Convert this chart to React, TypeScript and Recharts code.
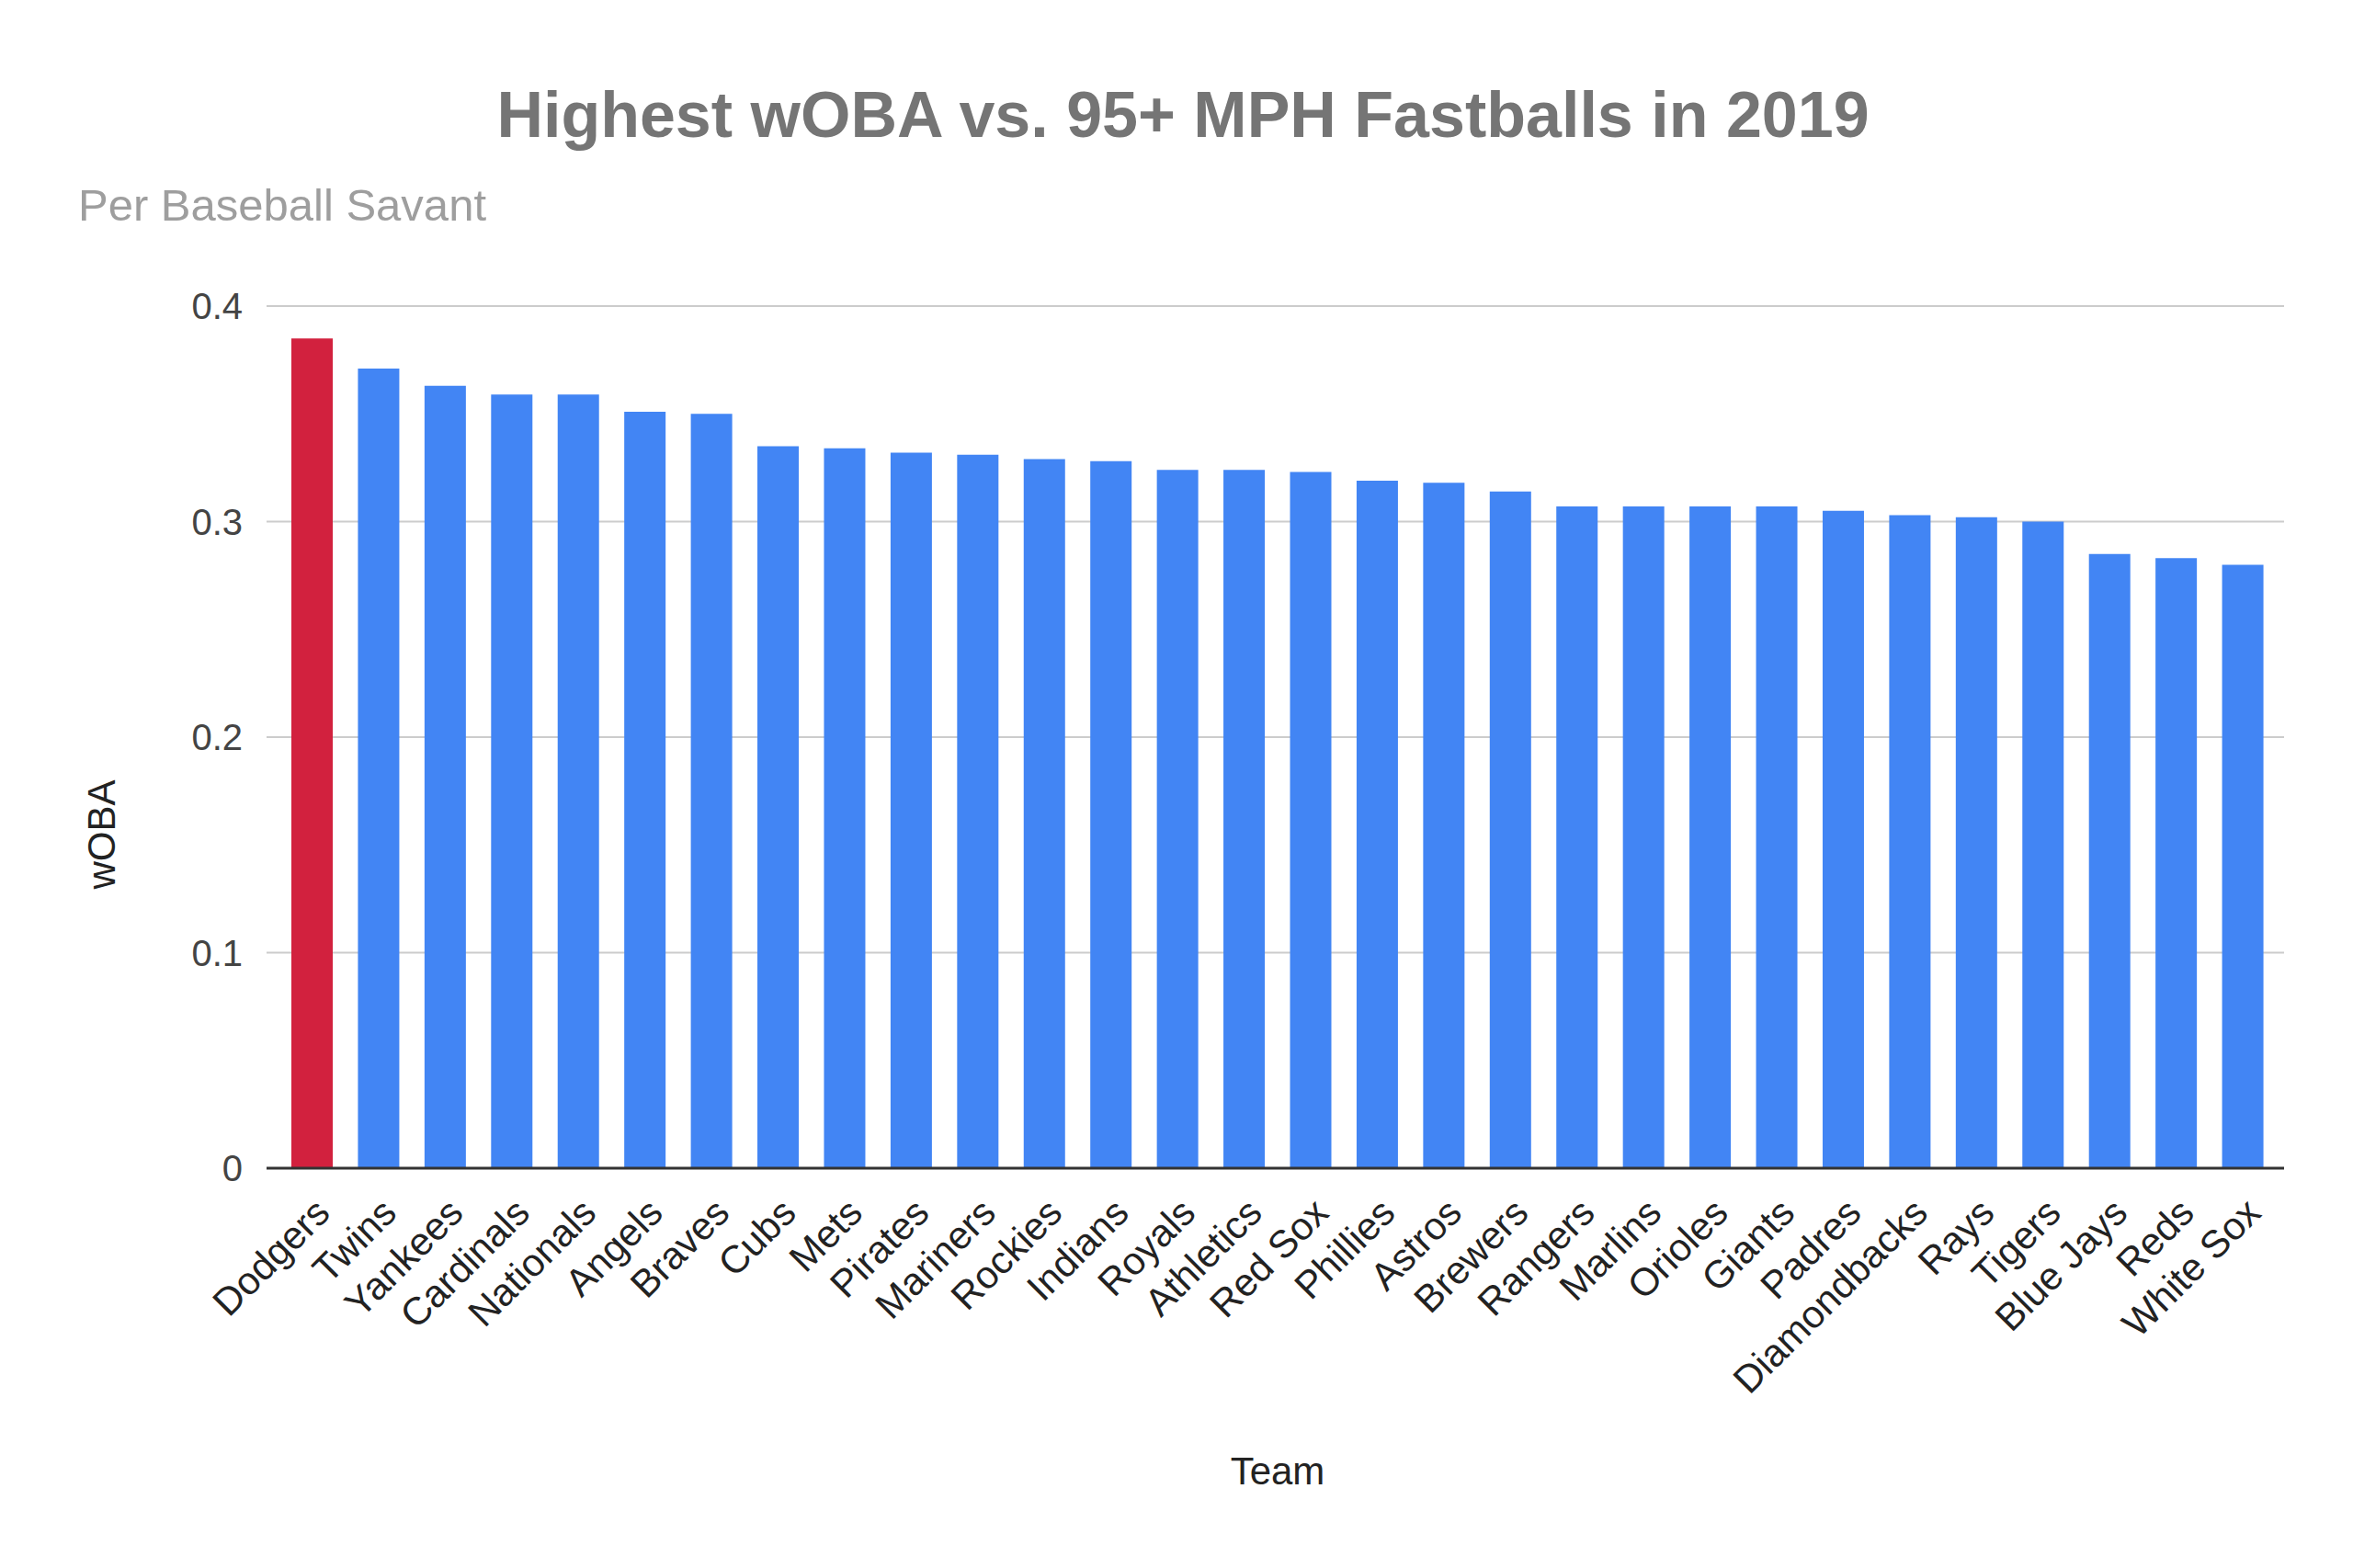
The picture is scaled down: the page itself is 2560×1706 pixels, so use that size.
import React from 'react';
import { BarChart, Bar, XAxis, YAxis, CartesianGrid, Cell } from 'recharts';

const teams: string[] = [
  'Dodgers', 'Twins', 'Yankees', 'Cardinals', 'Nationals', 'Angels', 'Braves', 'Cubs', 'Mets', 'Pirates',
  'Mariners', 'Rockies', 'Indians', 'Royals', 'Athletics', 'Red Sox', 'Phillies', 'Astros', 'Brewers', 'Rangers',
  'Marlins', 'Orioles', 'Giants', 'Padres', 'Diamondbacks', 'Rays', 'Tigers', 'Blue Jays', 'Reds', 'White Sox',
];

const woba: number[] = [
  0.385, 0.371, 0.363, 0.359, 0.359, 0.351, 0.350, 0.335, 0.334, 0.332,
  0.331, 0.329, 0.328, 0.324, 0.324, 0.323, 0.319, 0.318, 0.314, 0.307,
  0.307, 0.307, 0.307, 0.305, 0.303, 0.302, 0.300, 0.285, 0.283, 0.280,
];

const yTicks: number[] = [0, 0.1, 0.2, 0.3, 0.4];
const highlightTeam = 'Dodgers';

const data = teams.map((team, i) => ({ team, woba: woba[i] }));

const W = 2544;
const H = 1690;
const FONT = '"Liberation Sans", Arial, sans-serif';

const XTick = (props: any) => {
  const { x, y, payload } = props;
  const ax = x + 22;
  const ay = y + 51;
  return (
    <text
      x={ax}
      y={ay}
      textAnchor="end"
      transform={`rotate(-45, ${ax}, ${ay})`}
      fill="#222222"
      fontSize={42}
      fontFamily={FONT}
    >
      {payload.value}
    </text>
  );
};

export default function App() {
  return (
    <div style={{ position: 'relative', width: W, height: H, background: '#ffffff' }}>
      <BarChart
        width={W}
        height={H}
        data={data}
        margin={{ top: 325, right: 67, bottom: 127, left: 0 }}
      >
        <CartesianGrid horizontal={true} vertical={false} stroke="#cccccc" strokeWidth={2} />
        <XAxis
          dataKey="team"
          interval={0}
          height={300}
          tickLine={false}
          tickSize={0}
          tickMargin={0}
          axisLine={{ stroke: '#333333', strokeWidth: 3 }}
          padding={{ left: 13, right: 9 }}
          tick={<XTick />}
        />
        <YAxis
          width={282}
          domain={[0, 0.4]}
          ticks={yTicks}
          tickLine={false}
          axisLine={false}
          tickSize={0}
          tickMargin={26}
          tick={{ fill: '#444444', fontSize: 40, fontFamily: FONT }}
          allowDataOverflow={true}
        />
        <Bar dataKey="woba" barSize={45} fill="#4285F4" isAnimationActive={false}>
          {data.map((d) => (
            <Cell key={d.team} fill={d.team === highlightTeam ? '#D2213E' : '#4285F4'} />
          ))}
        </Bar>
      </BarChart>
      <svg
        width={W}
        height={H}
        style={{ position: 'absolute', left: 0, top: 0, pointerEvents: 'none' }}
      >
        <text x={1279} y={141} textAnchor="middle" fontFamily={FONT} fontWeight="bold" fontSize={70} fill="#757575">
          Highest wOBA vs. 95+ MPH Fastballs in 2019
        </text>
        <text x={77} y={232} textAnchor="start" fontFamily={FONT} fontSize={49} fill="#9e9e9e">
          Per Baseball Savant
        </text>
        <text
          x={102}
          y={900}
          textAnchor="middle"
          dominantBaseline="central"
          transform="rotate(-90, 102, 900)"
          fontFamily={FONT}
          fontSize={42}
          fill="#222222"
        >
          wOBA
        </text>
        <text x={1382} y={1607} textAnchor="middle" fontFamily={FONT} fontSize={42} fill="#222222">
          Team
        </text>
      </svg>
    </div>
  );
}
